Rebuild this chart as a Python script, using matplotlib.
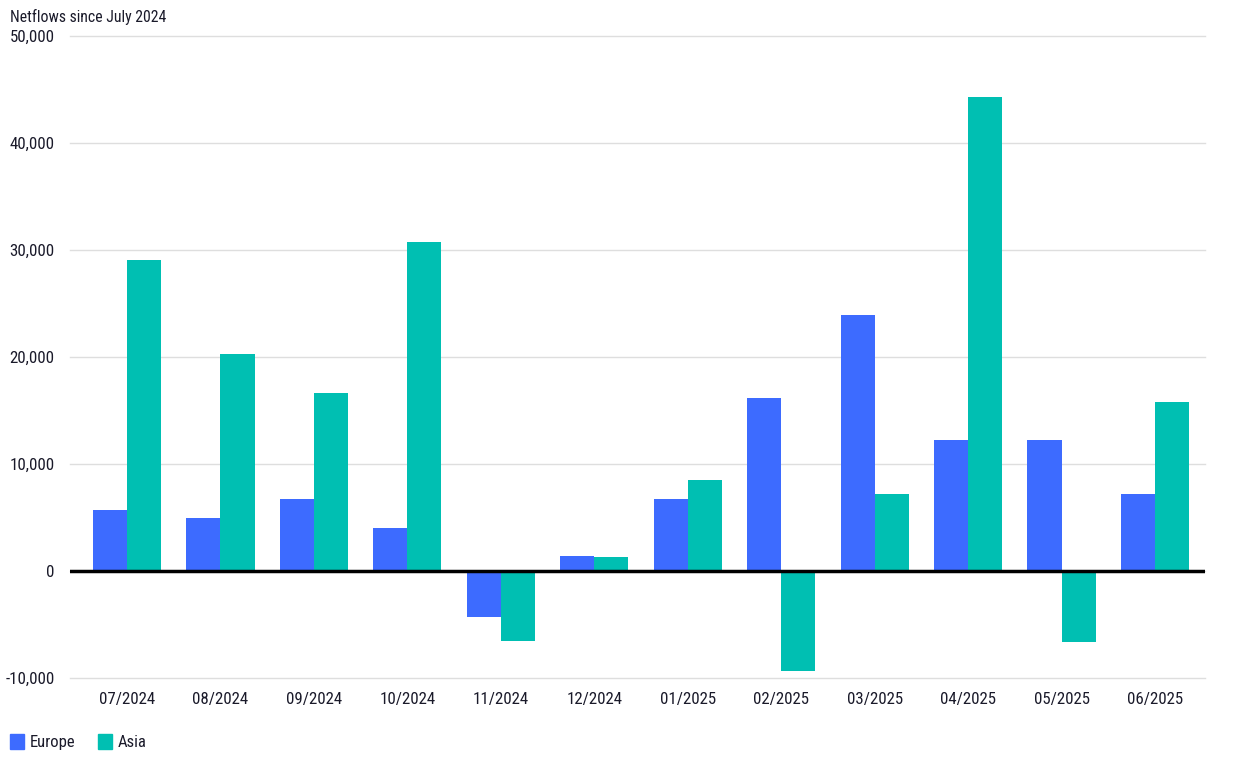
import matplotlib.pyplot as plt
import matplotlib.font_manager as fm
import numpy as np
from matplotlib.ticker import FuncFormatter
from matplotlib.patches import Patch

months = ['07/2024', '08/2024', '09/2024', '10/2024', '11/2024', '12/2024',
          '01/2025', '02/2025', '03/2025', '04/2025', '05/2025', '06/2025']
europe = [5700, 4950, 6700, 4000, -4300, 1400, 6700, 16150, 23900, 12250, 12250, 7200]
asia = [29050, 20300, 16650, 30750, -6550, 1300, 8500, -9350, 7200, 44300, -6650, 15800]

europe_color = '#3d6bff'
asia_color = '#00bfb2'

# condensed font if there is one, else Roboto
names = {f.name for f in fm.fontManager.ttflist}
family = 'Roboto'
for cand in ['Roboto Condensed', 'Liberation Sans Narrow', 'Open Sans Condensed', 'DejaVu Sans Condensed']:
    if cand in names:
        family = cand
        break
plt.rcParams['font.family'] = [family, 'DejaVu Sans']
plt.rcParams['text.color'] = '#1a1a2a'

fig = plt.figure(figsize=(12.46, 7.61), dpi=100)
ax = fig.add_axes([70 / 1246, (761 - 678) / 761, (1205 - 70) / 1246, (678 - 36) / 761])

x = np.arange(len(months))
w = 0.365
ax.bar(x - w / 2, europe, w, color=europe_color, zorder=2)
ax.bar(x + w / 2, asia, w, color=asia_color, zorder=2)

ax.set_ylim(-10000, 50000)
ax.set_xlim(-0.61, len(months) - 1 + 0.535)
ax.set_yticks(range(-10000, 50001, 10000))
ax.yaxis.set_major_formatter(FuncFormatter(lambda v, p: f'{int(v):,}'))
ax.set_xticks(x)
ax.set_xticklabels(months)
ax.grid(axis='y', color='#dedede', linewidth=1, zorder=0)
for gl in ax.get_ygridlines():
    gl.set_clip_on(False)
ax.axhline(0, color='black', linewidth=2.5, zorder=3)
for s in ax.spines.values():
    s.set_visible(False)
ax.tick_params(length=0, labelsize=12.2, colors='#1a1a2a')
ax.tick_params(axis='x', pad=10)
ax.tick_params(axis='y', pad=11)

fig.text(10 / 1246, 1 - 17 / 761, 'Netflows since July 2024', fontsize=11.3, va='center', ha='left')

handles = [Patch(color=europe_color, label='Europe'), Patch(color=asia_color, label='Asia')]
fig.legend(handles=handles, loc='center left', bbox_to_anchor=(8 / 1246, 1 - 742 / 761), ncol=2,
           frameon=False, fontsize=12, handlelength=0.85, handleheight=1.05, handletextpad=0.35,
           columnspacing=1.35, borderaxespad=0, borderpad=0.1)

fig.savefig('out.png', dpi=100, facecolor='white')
